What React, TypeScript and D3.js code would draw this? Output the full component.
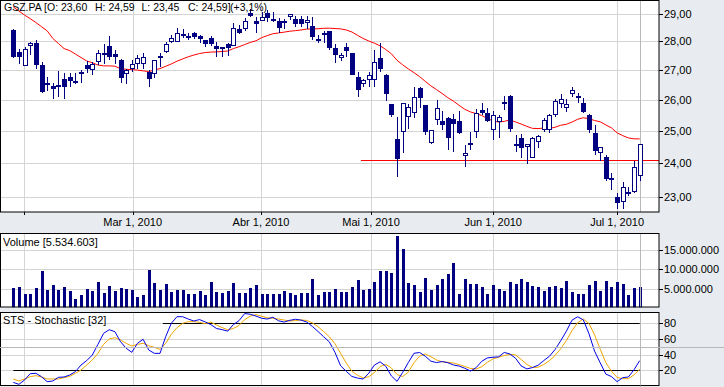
import React, { useMemo } from "react";
import * as d3 from "d3";

// GSZ.PA daily candles, late Jan .. Jul 7 2010
const opens = [
  28.40, 27.62, 27.14, 27.82, 27.94, 27.16, 26.55, 26.46, 26.50, 26.68,
  26.75, 26.64, 26.88, 27.16, 27.01, 27.28, 27.55, 27.82, 27.55, 27.36,
  26.85, 27.03, 27.22, 27.19, 26.94, 26.86, 27.44, 27.63, 27.99, 27.99,
  28.24, 28.19, 28.28, 28.17, 28.03, 28.11, 27.82, 27.71, 27.90, 27.84,
  28.43, 28.43, 29.03, 28.74, 28.74, 29.01, 28.80, 28.74, 28.73, 28.88,
  28.80, 28.79, 28.67, 28.54, 28.09, 28.28, 28.37, 27.75, 27.40, 27.78,
  27.59, 26.76, 26.52, 26.65, 26.65, 27.41, 26.84, 25.86, 24.74, 24.97,
  25.45, 25.58, 26.39, 25.82, 24.63, 25.34, 25.32, 25.40, 25.37, 25.32,
  24.22, 24.56, 24.97, 25.67, 25.58, 25.04, 25.27, 25.92, 26.12, 24.58,
  24.78, 24.50, 24.15, 24.66, 25.01, 25.01, 25.52, 25.86, 25.72, 26.18,
  26.12, 25.91, 25.52, 24.92, 24.30, 24.17, 23.55, 22.98, 22.85, 23.10,
  23.15, 23.60,
];
const highs = [
  28.42, 27.71, 27.80, 27.99, 28.05, 27.26, 26.75, 26.55, 26.95, 26.91,
  26.91, 26.91, 27.00, 27.30, 27.28, 27.69, 27.89, 28.19, 27.69, 27.38,
  27.02, 27.34, 27.51, 27.59, 27.00, 27.34, 27.57, 27.99, 28.22, 28.49,
  28.43, 28.28, 28.34, 28.22, 28.05, 28.19, 27.99, 27.80, 27.95, 28.64,
  28.58, 28.82, 29.17, 28.86, 29.07, 29.13, 29.07, 28.82, 28.80, 29.00,
  28.92, 28.92, 28.92, 28.88, 28.22, 28.38, 28.37, 27.90, 27.57, 27.92,
  27.60, 26.94, 26.71, 26.94, 27.69, 27.92, 26.86, 25.87, 25.45, 25.89,
  25.86, 26.42, 26.42, 25.83, 25.03, 25.99, 25.63, 25.45, 25.53, 25.63,
  24.56, 24.97, 25.70, 25.89, 25.72, 25.63, 25.52, 26.13, 26.15, 24.87,
  24.90, 24.60, 24.81, 24.87, 25.40, 25.55, 26.01, 26.18, 26.02, 26.42,
  26.21, 26.07, 25.53, 25.18, 24.49, 24.25, 23.69, 23.12, 23.44, 23.29,
  24.06, 24.59,
];
const lows = [
  27.40, 27.22, 27.13, 27.51, 27.05, 26.24, 26.30, 26.04, 26.10, 26.04,
  26.44, 26.53, 26.55, 26.89, 26.83, 27.17, 27.22, 27.36, 27.22, 26.57,
  26.52, 26.94, 27.05, 27.05, 26.44, 26.72, 27.11, 27.57, 27.93, 27.97,
  28.11, 28.03, 28.07, 27.93, 27.80, 27.84, 27.43, 27.45, 27.49, 27.82,
  28.24, 28.38, 28.88, 28.31, 28.73, 28.70, 28.70, 28.31, 28.45, 28.75,
  28.52, 28.52, 28.45, 28.03, 27.93, 27.93, 27.69, 27.24, 27.31, 27.46,
  26.82, 26.10, 26.44, 26.44, 26.44, 26.94, 25.96, 25.45, 23.59, 24.32,
  25.07, 25.40, 25.72, 24.87, 24.59, 25.18, 25.02, 24.40, 24.35, 24.90,
  23.87, 24.40, 24.76, 25.50, 25.29, 24.71, 24.76, 25.67, 24.97, 24.35,
  24.15, 23.96, 24.14, 24.47, 24.97, 24.94, 25.45, 25.74, 25.61, 26.10,
  25.89, 25.57, 24.94, 24.25, 24.06, 23.47, 23.19, 22.65, 22.65, 23.02,
  23.12, 23.45,
];
const closes = [
  27.43, 27.43, 27.71, 27.94, 27.18, 26.25, 26.51, 26.35, 26.48, 26.42,
  26.62, 26.62, 26.92, 27.03, 27.20, 27.57, 27.58, 27.46, 27.46, 26.74,
  27.00, 27.19, 27.40, 27.43, 26.68, 27.33, 27.47, 27.90, 28.11, 28.31,
  28.20, 28.11, 28.14, 28.07, 27.89, 27.89, 27.71, 27.78, 27.75, 28.46,
  28.28, 28.74, 28.91, 28.60, 28.86, 28.82, 28.79, 28.49, 28.69, 28.97,
  28.60, 28.60, 28.77, 28.14, 28.08, 28.22, 27.77, 27.53, 27.51, 27.66,
  26.84, 26.34, 26.65, 26.82, 27.29, 27.02, 26.18, 25.51, 24.12, 25.88,
  25.77, 26.08, 26.05, 24.97, 25.02, 25.74, 25.18, 24.76, 25.22, 24.92,
  24.30, 24.62, 25.58, 25.58, 25.31, 25.50, 25.45, 25.94, 25.07, 24.56,
  24.45, 24.59, 24.78, 24.84, 25.35, 25.49, 25.95, 26.01, 25.85, 26.33,
  26.09, 25.61, 25.01, 24.38, 24.48, 23.52, 23.53, 22.82, 23.29, 23.14,
  23.87, 24.59,
];
const volumeMillions = [
  5.18, 5.44, 3.64, 3.64, 5.18, 9.53, 4.67, 5.95, 4.67, 5.44,
  4.41, 2.36, 3.38, 4.92, 4.41, 6.72, 3.90, 5.69, 4.41, 5.18,
  4.92, 4.67, 2.87, 3.38, 9.79, 6.46, 4.67, 6.21, 4.15, 4.67,
  4.67, 3.64, 3.64, 4.41, 3.38, 6.72, 4.15, 3.90, 4.41, 6.46,
  3.90, 3.90, 5.18, 5.95, 3.64, 3.64, 3.64, 3.64, 4.41, 3.90,
  3.38, 3.90, 3.90, 7.49, 3.38, 4.15, 4.15, 4.92, 4.15, 4.15,
  5.44, 7.23, 4.67, 4.92, 6.72, 9.53, 9.53, 9.02, 18.51, 15.17,
  6.46, 5.95, 4.15, 7.74, 4.67, 5.95, 7.49, 8.77, 11.59, 3.64,
  7.49, 6.21, 6.21, 5.44, 3.64, 5.95, 4.92, 4.41, 6.72, 6.21,
  7.49, 6.72, 5.69, 5.44, 4.41, 5.44, 5.69, 5.18, 6.97, 4.15,
  3.64, 3.64, 5.95, 6.97, 4.41, 6.97, 5.44, 6.72, 6.21, 3.38,
  5.18, 5.534603,
];

// indicator values before their look-back window is filled
const maLead = [
  29.24, 29.09, 28.94, 28.81, 28.67, 28.52, 28.37, 28.10, 27.92, 27.74,
  27.67, 27.55, 27.43, 27.31, 27.25, 27.17, 27.14, 27.14, 27.13,
];
const kLead = [
  4.7, 2.2, 7.7, 15.7, 16.2, 11.9, 5.6, 6.4, 11.1, 11.5,
  14.0, 18.3, 26.7, 32.2, 39.4, 52.9, 66.9, 71.5, 69.0, 56.3,
  47.9, 42.8, 54.2, 59.3, 45.7, 41.5, 41.5, 62.6, 79.6, 88.0,
  88.0, 85.0, 82.5,
];
const dLead = [
  9.0, 6.4, 9.0, 11.9, 13.2, 11.5, 9.0, 9.0, 9.0, 10.7,
  12.4, 16.2, 20.4, 26.7, 33.1, 41.5, 52.9, 59.7, 61.4, 58.4,
  54.2, 50.8, 52.9, 54.2, 51.2, 49.1, 46.5, 54.2, 65.6, 74.0,
  79.6, 81.7, 81.7, 80.8, 79.1,
];

const headerParts = ["GSZ.PA [O: 23,60", "H: 24,59", "L: 23,45", "C: 24,59]", "(+3,1%)"];
const headerPartX = [4, 95, 141.5, 188, 230];
const priceTicks = [23, 24, 25, 26, 27, 28, 29];
const dateTickIndex = [1.95, 21.15, 43.9, 63.4, 85.05, 107];
const dateTickLabels = ["", "Mar 1, 2010", "Abr 1, 2010", "Mai 1, 2010", "Jun 1, 2010", "Jul 1, 2010"];
const volumeTicks = [5e6, 10e6, 15e6];
const stochTicks = [20, 40, 60, 80];
const stochLevels = [80, 20];
const stochLevelFrom = [26.5, 0];
const supportPrice = 24.09;
const supportFromIndex = 61.6;
const crosshairStoch = 49;

const W = 724;
const H = 387;
const PR = 659; // right edge of the panels
const NAVY = "#000080";
const GRID = "#d4d4d4";
const FONT = "'Liberation Sans', Arial, sans-serif";

const loc = d3.formatLocale({ decimal: ",", thousands: ".", grouping: [3], currency: ["", ""] });
const fmtPrice = loc.format(",.2f");
const fmtVol = loc.format(",d");

export default function App() {
  const n = closes.length;

  const calc = useMemo(() => {
    const ma = closes.map((_, i) =>
      i < 19 ? maLead[i] : (d3.mean(closes.slice(i - 19, i + 1)) as number)
    );
    const fastK = closes.map((c, i) => {
      if (i < 31) return NaN;
      const hh = d3.max(highs.slice(i - 31, i + 1)) as number;
      const ll = d3.min(lows.slice(i - 31, i + 1)) as number;
      return ((c - ll) / (hh - ll)) * 100;
    });
    const slowK = closes.map((_, i) =>
      i < 33 ? kLead[i] : (d3.mean(fastK.slice(i - 2, i + 1)) as number)
    );
    const stochD = closes.map((_, i) =>
      i < 35 ? dLead[i] : (d3.mean(slowK.slice(i - 2, i + 1)) as number)
    );
    return { ma, slowK, stochD };
  }, []);

  const x = d3.scaleLinear().domain([0, n - 1]).range([13.3, 639.7]);
  const y = d3.scaleLog().domain([23, 29]).range([196.7, 13.5]);
  const yVol = d3.scaleLinear().domain([0, 15e6]).range([308.2, 249.7]);
  const yStoch = d3.scaleLinear().domain([20, 80]).range([370.3, 323]);

  const main = { top: 1, bottom: 212 };
  const vol = { top: 234, bottom: 307.5 };
  const sto = { top: 312.5, bottom: 385.5 };

  const maLine = d3.line<number>().x((_, i) => x(i)).y((d) => y(d))(calc.ma) || "";
  const kLine = d3.line<number>().x((_, i) => x(i)).y((d) => yStoch(d))(calc.slowK) || "";
  const dLine = d3.line<number>().x((_, i) => x(i)).y((d) => yStoch(d))(calc.stochD) || "";

  const px = (v: number) => Math.round(v) + 0.5;
  const lastX = x(n - 1);

  const vGrid = (top: number, bottom: number) =>
    dateTickIndex.map((t, i) => (
      <line key={"vg" + i} x1={px(x(t))} x2={px(x(t))} y1={top} y2={bottom} stroke={GRID} />
    ));

  return (
    <svg
      width={W}
      height={H}
      style={{ position: "absolute", left: 0, top: 0, fontFamily: FONT }}
    >
      <defs>
        <clipPath id="clipMain">
          <rect x={1} y={main.top} width={PR - 1} height={main.bottom - main.top} />
        </clipPath>
        <clipPath id="clipVol">
          <rect x={1} y={vol.top} width={PR - 1} height={vol.bottom - vol.top} />
        </clipPath>
        <clipPath id="clipSto">
          <rect x={1} y={sto.top} width={PR - 1} height={sto.bottom - sto.top} />
        </clipPath>
      </defs>
      <rect width={W} height={H} fill="#e8ecf0" />

      {/* ---------- price panel ---------- */}
      <rect x={0.5} y={0.5} width={PR - 0.5} height={main.bottom - 0.5} fill="#fff" />
      <g clipPath="url(#clipMain)">
        {priceTicks.map((p) => (
          <line key={p} x1={0} x2={PR} y1={px(y(p))} y2={px(y(p))} stroke={GRID} />
        ))}
        {vGrid(main.top, main.bottom)}
        <line x1={px(lastX)} x2={px(lastX)} y1={main.top} y2={main.bottom} stroke="#b8b8b8" />
        <path d={maLine} fill="none" stroke="#ff0000" strokeWidth={1} />
        <line
          x1={x(supportFromIndex)}
          x2={PR}
          y1={px(y(supportPrice))}
          y2={px(y(supportPrice))}
          stroke="#ff0000"
        />
        {closes.map((c, i) => {
          const o = opens[i];
          const cx = Math.round(x(i));
          const up = c >= o;
          const top = Math.round(y(Math.max(o, c)));
          const bot = Math.max(Math.round(y(Math.min(o, c))), top + 1);
          return (
            <g key={i}>
              <line
                x1={cx + 0.5}
                x2={cx + 0.5}
                y1={Math.round(y(highs[i]))}
                y2={Math.round(y(lows[i]))}
                stroke={NAVY}
              />
              {up ? (
                <rect
                  x={cx - 1.5}
                  y={top + 0.5}
                  width={4}
                  height={Math.max(bot - top - 1, 1)}
                  fill="#fff"
                  stroke={NAVY}
                />
              ) : (
                <rect x={cx - 2} y={top} width={5} height={Math.max(bot - top, 2)} fill={NAVY} />
              )}
            </g>
          );
        })}
      </g>
      <rect
        x={0.5}
        y={0.5}
        width={PR - 0.5}
        height={main.bottom - 0.5}
        fill="none"
        stroke="#000"
      />
      <text y={11} fontSize={10.5} fill="#000">
        {headerParts.map((s, i) => (
          <tspan key={i} x={headerPartX[i]}>
            {s}
          </tspan>
        ))}
      </text>
      {priceTicks.map((p) => (
        <g key={"pl" + p}>
          <line x1={PR} x2={PR + 4} y1={px(y(p))} y2={px(y(p))} stroke="#000" />
          <text x={PR + 5} y={y(p) + 4} fontSize={11} fill="#000">
            {fmtPrice(p)}
          </text>
        </g>
      ))}
      {dateTickIndex.map((t, i) => (
        <g key={"dt" + i}>
          <line x1={px(x(t))} x2={px(x(t))} y1={main.bottom} y2={main.bottom + 3} stroke="#000" />
          {dateTickLabels[i] && (
            <text x={x(t)} y={226} fontSize={11} textAnchor="middle" fill="#000">
              {dateTickLabels[i]}
            </text>
          )}
        </g>
      ))}

      {/* ---------- volume panel ---------- */}
      <rect x={0.5} y={vol.top - 0.5} width={PR - 0.5} height={vol.bottom - vol.top} fill="#fff" />
      <g clipPath="url(#clipVol)">
        {volumeTicks.map((v) => (
          <line key={v} x1={0} x2={PR} y1={px(yVol(v))} y2={px(yVol(v))} stroke={GRID} />
        ))}
        {vGrid(vol.top, vol.bottom)}
        {volumeMillions.map((v, i) => {
          const top = Math.round(yVol(v * 1e6));
          return (
            <rect
              key={i}
              x={Math.round(x(i)) - 1}
              y={top}
              width={3}
              height={vol.bottom - top}
              fill={NAVY}
            />
          );
        })}
        <line x1={px(lastX)} x2={px(lastX)} y1={vol.top} y2={vol.bottom} stroke="#b8b8b8" />
      </g>
      <rect
        x={0.5}
        y={vol.top - 0.5}
        width={PR - 0.5}
        height={vol.bottom - vol.top}
        fill="none"
        stroke="#000"
      />
      <text x={3} y={246} fontSize={11} fill="#000">
        Volume [5.534.603]
      </text>
      {volumeTicks.map((v) => (
        <g key={"vl" + v}>
          <line x1={PR} x2={PR + 4} y1={px(yVol(v))} y2={px(yVol(v))} stroke="#000" />
          <text x={PR + 5} y={yVol(v) + 4} fontSize={11} fill="#000">
            {fmtVol(v)}
          </text>
        </g>
      ))}

      {/* ---------- stochastic panel ---------- */}
      <rect x={0.5} y={sto.top} width={PR - 0.5} height={sto.bottom - sto.top} fill="#fff" />
      <g clipPath="url(#clipSto)">
        {stochTicks.map((v) => (
          <line key={v} x1={0} x2={PR} y1={px(yStoch(v))} y2={px(yStoch(v))} stroke={GRID} />
        ))}
        {vGrid(sto.top, sto.bottom)}
        {stochLevels.map((v, i) => (
          <line
            key={"lv" + v}
            x1={x(stochLevelFrom[i])}
            x2={lastX}
            y1={px(yStoch(v))}
            y2={px(yStoch(v))}
            stroke="#000"
          />
        ))}
        <path d={dLine} fill="none" stroke="#f0a500" strokeWidth={1} />
        <path d={kLine} fill="none" stroke="#0000e6" strokeWidth={1} />
        <line x1={px(lastX)} x2={px(lastX)} y1={sto.top} y2={sto.bottom} stroke="#b8b8b8" />
      </g>
      <rect
        x={0.5}
        y={sto.top}
        width={PR - 0.5}
        height={sto.bottom - sto.top}
        fill="none"
        stroke="#000"
      />
      <text x={3} y={323.5} fontSize={11} fill="#000">
        STS - Stochastic [32]
      </text>
      {stochTicks.map((v) => (
        <g key={"sl" + v}>
          <line x1={PR} x2={PR + 4} y1={px(yStoch(v))} y2={px(yStoch(v))} stroke="#000" />
          <text x={PR + 5} y={yStoch(v) + 4} fontSize={11} fill="#000">
            {v}
          </text>
        </g>
      ))}

      {/* crosshair */}
      <line x1={0} x2={W} y1={px(yStoch(crosshairStoch))} y2={px(yStoch(crosshairStoch))} stroke="#b8b8b8" />
      <line x1={px(lastX)} x2={px(lastX)} y1={sto.bottom} y2={H} stroke="#b8b8b8" />
    </svg>
  );
}
